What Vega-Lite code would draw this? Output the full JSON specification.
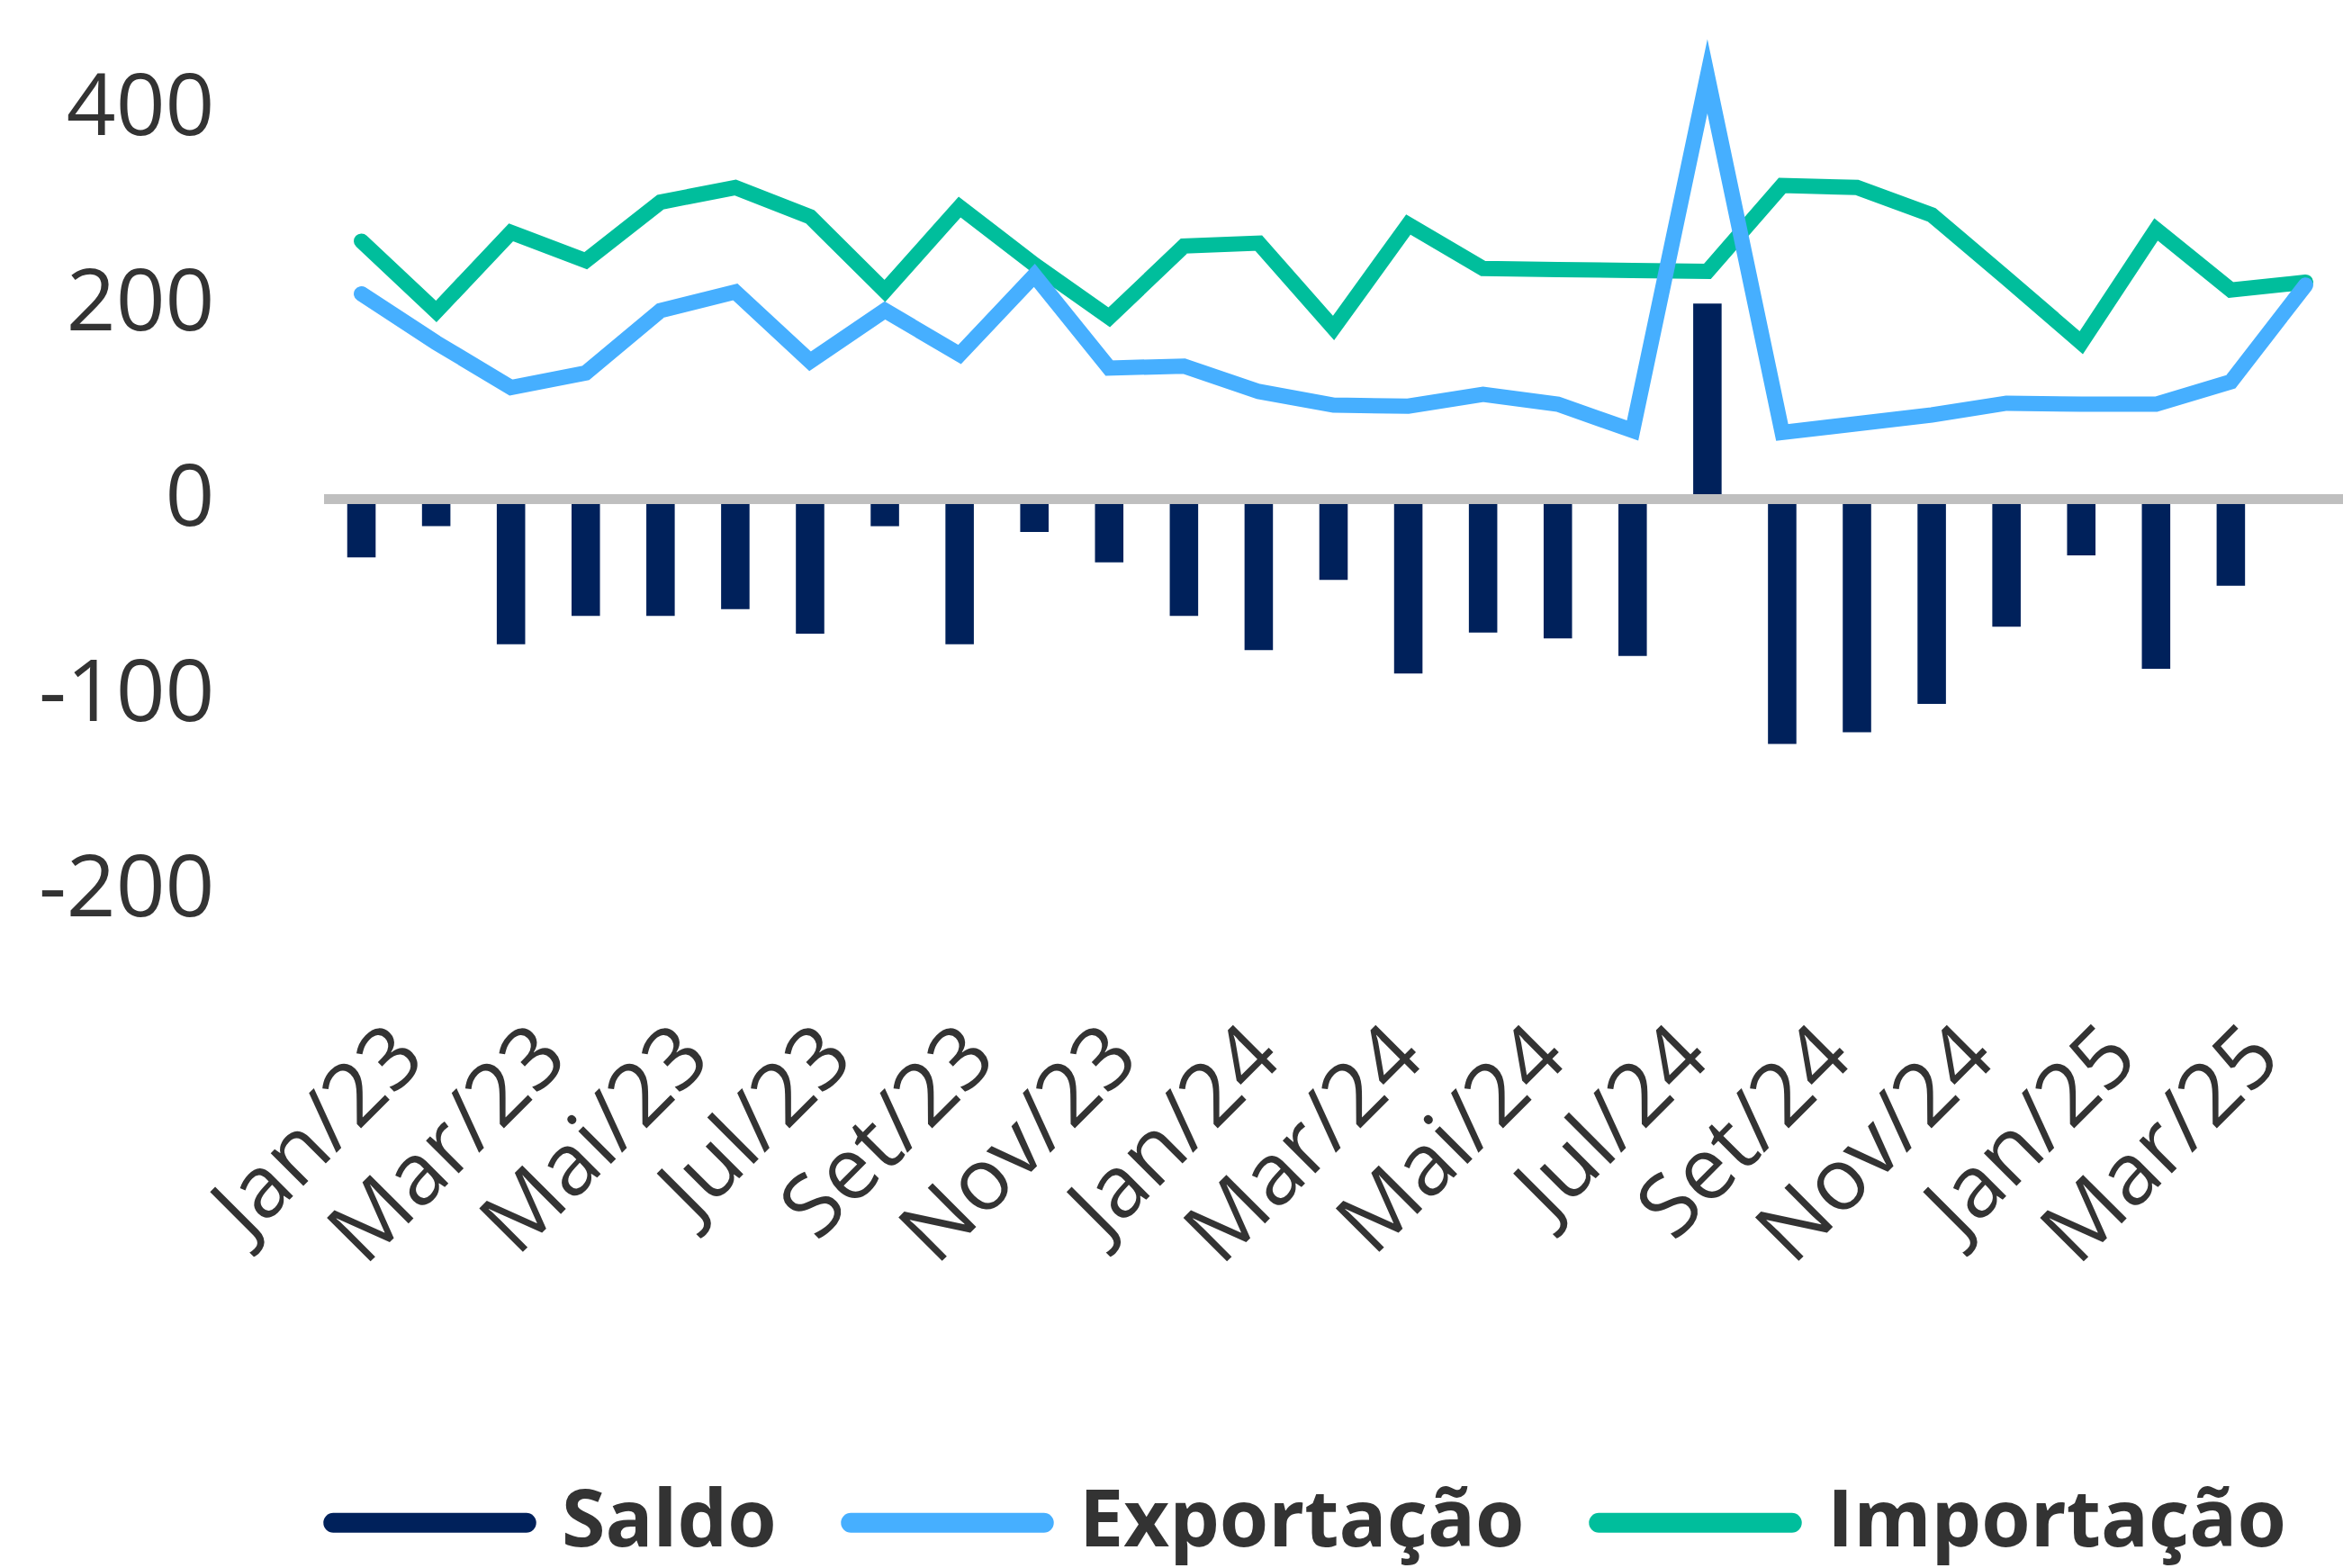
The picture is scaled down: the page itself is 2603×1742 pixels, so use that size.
{
  "$schema": "https://vega.github.io/schema/vega-lite/v6.json",
  "width": 2243,
  "height": 976,
  "autosize": {"type": "none"},
  "padding": {"left": 360, "top": 12, "right": 0, "bottom": 754},
  "background": "white",
  "config": {"view": {"stroke": null}},
  "datasets": {
    "dados": [
      {"mes": "Jan/23", "serie": "Saldo", "valor": -60},
      {"mes": "Fev/23", "serie": "Saldo", "valor": -28},
      {"mes": "Mar/23", "serie": "Saldo", "valor": -149},
      {"mes": "Abr/23", "serie": "Saldo", "valor": -120},
      {"mes": "Mai/23", "serie": "Saldo", "valor": -120},
      {"mes": "Jun/23", "serie": "Saldo", "valor": -113},
      {"mes": "Jul/23", "serie": "Saldo", "valor": -138},
      {"mes": "Ago/23", "serie": "Saldo", "valor": -28},
      {"mes": "Set/23", "serie": "Saldo", "valor": -149},
      {"mes": "Out/23", "serie": "Saldo", "valor": -34},
      {"mes": "Nov/23", "serie": "Saldo", "valor": -65},
      {"mes": "Dez/23", "serie": "Saldo", "valor": -120},
      {"mes": "Jan/24", "serie": "Saldo", "valor": -155},
      {"mes": "Fev/24", "serie": "Saldo", "valor": -83},
      {"mes": "Mar/24", "serie": "Saldo", "valor": -179},
      {"mes": "Abr/24", "serie": "Saldo", "valor": -137},
      {"mes": "Mai/24", "serie": "Saldo", "valor": -143},
      {"mes": "Jun/24", "serie": "Saldo", "valor": -161},
      {"mes": "Jul/24", "serie": "Saldo", "valor": 200},
      {"mes": "Ago/24", "serie": "Saldo", "valor": -251},
      {"mes": "Set/24", "serie": "Saldo", "valor": -239},
      {"mes": "Out/24", "serie": "Saldo", "valor": -210},
      {"mes": "Nov/24", "serie": "Saldo", "valor": -131},
      {"mes": "Dez/24", "serie": "Saldo", "valor": -58},
      {"mes": "Jan/25", "serie": "Saldo", "valor": -174},
      {"mes": "Fev/25", "serie": "Saldo", "valor": -89},
      {"mes": "Mar/25", "serie": "Saldo", "valor": -3},
      {"mes": "Jan/23", "serie": "Exportação", "valor": 210},
      {"mes": "Fev/23", "serie": "Exportação", "valor": 160},
      {"mes": "Mar/23", "serie": "Exportação", "valor": 114},
      {"mes": "Abr/23", "serie": "Exportação", "valor": 129},
      {"mes": "Mai/23", "serie": "Exportação", "valor": 193},
      {"mes": "Jun/23", "serie": "Exportação", "valor": 212},
      {"mes": "Jul/23", "serie": "Exportação", "valor": 141},
      {"mes": "Ago/23", "serie": "Exportação", "valor": 193},
      {"mes": "Set/23", "serie": "Exportação", "valor": 148},
      {"mes": "Out/23", "serie": "Exportação", "valor": 229},
      {"mes": "Nov/23", "serie": "Exportação", "valor": 134},
      {"mes": "Dez/23", "serie": "Exportação", "valor": 136},
      {"mes": "Jan/24", "serie": "Exportação", "valor": 110},
      {"mes": "Fev/24", "serie": "Exportação", "valor": 96},
      {"mes": "Mar/24", "serie": "Exportação", "valor": 95},
      {"mes": "Abr/24", "serie": "Exportação", "valor": 107},
      {"mes": "Mai/24", "serie": "Exportação", "valor": 97},
      {"mes": "Jun/24", "serie": "Exportação", "valor": 70},
      {"mes": "Jul/24", "serie": "Exportação", "valor": 433},
      {"mes": "Ago/24", "serie": "Exportação", "valor": 68},
      {"mes": "Set/24", "serie": "Exportação", "valor": 77},
      {"mes": "Out/24", "serie": "Exportação", "valor": 86},
      {"mes": "Nov/24", "serie": "Exportação", "valor": 98},
      {"mes": "Dez/24", "serie": "Exportação", "valor": 97},
      {"mes": "Jan/25", "serie": "Exportação", "valor": 97},
      {"mes": "Fev/25", "serie": "Exportação", "valor": 120},
      {"mes": "Mar/25", "serie": "Exportação", "valor": 219},
      {"mes": "Jan/23", "serie": "Importação", "valor": 264},
      {"mes": "Fev/23", "serie": "Importação", "valor": 192},
      {"mes": "Mar/23", "serie": "Importação", "valor": 273},
      {"mes": "Abr/23", "serie": "Importação", "valor": 244},
      {"mes": "Mai/23", "serie": "Importação", "valor": 304},
      {"mes": "Jun/23", "serie": "Importação", "valor": 319},
      {"mes": "Jul/23", "serie": "Importação", "valor": 289},
      {"mes": "Ago/23", "serie": "Importação", "valor": 213},
      {"mes": "Set/23", "serie": "Importação", "valor": 299},
      {"mes": "Out/23", "serie": "Importação", "valor": 240},
      {"mes": "Nov/23", "serie": "Importação", "valor": 186},
      {"mes": "Dez/23", "serie": "Importação", "valor": 259},
      {"mes": "Jan/24", "serie": "Importação", "valor": 262},
      {"mes": "Fev/24", "serie": "Importação", "valor": 175},
      {"mes": "Mar/24", "serie": "Importação", "valor": 281},
      {"mes": "Abr/24", "serie": "Importação", "valor": 236},
      {"mes": "Mai/24", "serie": "Importação", "valor": 235},
      {"mes": "Jun/24", "serie": "Importação", "valor": 234},
      {"mes": "Jul/24", "serie": "Importação", "valor": 233},
      {"mes": "Ago/24", "serie": "Importação", "valor": 321},
      {"mes": "Set/24", "serie": "Importação", "valor": 319},
      {"mes": "Out/24", "serie": "Importação", "valor": 291},
      {"mes": "Nov/24", "serie": "Importação", "valor": 226},
      {"mes": "Dez/24", "serie": "Importação", "valor": 160},
      {"mes": "Jan/25", "serie": "Importação", "valor": 276},
      {"mes": "Fev/25", "serie": "Importação", "valor": 214},
      {"mes": "Mar/25", "serie": "Importação", "valor": 222}
    ]
  },
  "data": {"name": "dados"},
  "layer": [
    {
      "layer": [
        {
          "transform": [{"filter": "datum.serie === 'Saldo'"}],
          "mark": {"type": "bar", "color": "#00215B"},
          "encoding": {
            "x": {
              "field": "mes",
              "type": "ordinal",
              "scale": {
                "type": "band",
                "domain": ["Jan/23","Fev/23","Mar/23","Abr/23","Mai/23","Jun/23","Jul/23","Ago/23","Set/23","Out/23","Nov/23","Dez/23","Jan/24","Fev/24","Mar/24","Abr/24","Mai/24","Jun/24","Jul/24","Ago/24","Set/24","Out/24","Nov/24","Dez/24","Jan/25","Fev/25","Mar/25"],
                "paddingInner": 0.62,
                "paddingOuter": 0.31
              },
              "axis": null
            },
            "y": {
              "field": "valor",
              "type": "quantitative",
              "scale": {"domain": [-400, 500], "nice": false, "zero": false},
              "axis": {
                "values": [-400, -200, 0, 200, 400],
                "labelExpr": "datum.value < 0 ? '-' + (-datum.value / 2) : '' + datum.value",
                "grid": false,
                "domain": false,
                "ticks": false,
                "title": null,
                "labelPadding": 122,
                "labelFont": "Open Sans",
                "labelFontSize": 96,
                "labelColor": "#333333",
                "labelLimit": 1000
              }
            }
          }
        },
        {
          "mark": {"type": "rule", "color": "#BFBFBF", "strokeWidth": 10},
          "encoding": {"y": {"datum": 0}}
        },
        {
          "transform": [{"filter": "datum.serie === 'Importação'"}],
          "mark": {"type": "line", "strokeWidth": 17, "strokeCap": "round", "strokeJoin": "miter", "strokeMiterLimit": 10},
          "encoding": {
            "x": {"field": "mes", "type": "ordinal", "bandPosition": 0.5},
            "y": {"field": "valor", "type": "quantitative"},
            "color": {
              "field": "serie",
              "type": "nominal",
              "scale": {"domain": ["Saldo", "Exportação", "Importação"], "range": ["#00215B", "#46AFFF", "#00BE9C"]},
              "legend": {
                "title": null,
                "orient": "none",
                "legendX": -1,
                "legendY": 1561,
                "direction": "horizontal",
                "symbolType": "stroke",
                "symbolSize": 46000,
                "symbolStrokeWidth": 22,
                "labelFont": "Open Sans",
                "labelFontSize": 88,
                "labelFontWeight": "bold",
                "labelColor": "#333333",
                "labelOffset": 28,
                "columnPadding": 38,
                "labelLimit": 1000,
                "encode": {"symbols": {"update": {"strokeCap": {"value": "round"}}}}
              }
            }
          }
        },
        {
          "transform": [{"filter": "datum.serie === 'Exportação'"}],
          "mark": {"type": "line", "strokeWidth": 17, "strokeCap": "round", "strokeJoin": "miter", "strokeMiterLimit": 10},
          "encoding": {
            "x": {"field": "mes", "type": "ordinal", "bandPosition": 0.5},
            "y": {"field": "valor", "type": "quantitative"},
            "color": {
              "field": "serie",
              "type": "nominal",
              "scale": {"domain": ["Saldo", "Exportação", "Importação"], "range": ["#00215B", "#46AFFF", "#00BE9C"]}
            }
          }
        }
      ]
    },
    {
      "mark": {"type": "rule", "strokeOpacity": 0},
      "encoding": {
        "x": {
          "field": "mes",
          "type": "ordinal",
          "scale": {
            "type": "band",
            "domain": ["Jan/23","Fev/23","Mar/23","Abr/23","Mai/23","Jun/23","Jul/23","Ago/23","Set/23","Out/23","Nov/23","Dez/23","Jan/24","Fev/24","Mar/24","Abr/24","Mai/24","Jun/24","Jul/24","Ago/24","Set/24","Out/24","Nov/24","Dez/24","Jan/25","Fev/25","Mar/25","Abr/25"],
            "paddingInner": 0,
            "paddingOuter": 0.143
          },
          "axis": {
            "orient": "bottom",
            "values": ["Jan/23","Mar/23","Mai/23","Jul/23","Set/23","Nov/23","Jan/24","Mar/24","Mai/24","Jul/24","Set/24","Nov/24","Jan/25","Mar/25"],
            "labelAngle": -45,
            "labelAlign": "right",
            "labelBaseline": "middle",
            "labelPadding": 170,
            "labelOffset": 44,
            "ticks": false,
            "domain": false,
            "grid": false,
            "title": null,
            "labelFont": "Open Sans",
            "labelFontSize": 96,
            "labelColor": "#333333",
            "labelOverlap": false,
            "labelLimit": 1000
          }
        }
      }
    }
  ],
  "resolve": {"scale": {"x": "independent"}, "axis": {"x": "independent"}}
}
